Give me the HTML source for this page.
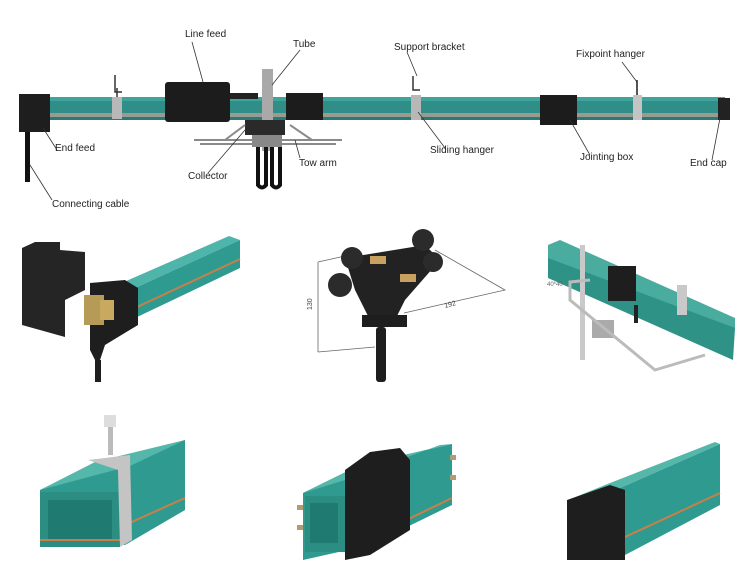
<!DOCTYPE html>
<html><head><meta charset="utf-8"><style>
html,body{margin:0;padding:0;background:#fff;}
svg{display:block;font-family:"Liberation Sans",sans-serif;}
</style></head><body>
<svg width="750" height="574" viewBox="0 0 750 574" xmlns="http://www.w3.org/2000/svg">
<rect width="750" height="574" fill="#fff"/>
<!-- TOP RAIL -->
<rect x="45" y="97" width="680" height="17" fill="#2f8f88"/>
<rect x="45" y="97" width="680" height="4" fill="#3fa59c"/>
<rect x="45" y="113" width="680" height="4" fill="#9a9a92"/>
<rect x="45" y="117" width="680" height="3" fill="#2a7a74"/>
<!-- end feed -->
<rect x="19" y="94" width="31" height="38" fill="#1e1e1e"/>
<rect x="25" y="132" width="5" height="50" fill="#111"/>
<!-- support hooks -->
<rect x="112" y="97" width="10" height="22" fill="#b8b8b8"/>
<path d="M115 75 L115 92 L122 92 M117 88 L117 97" stroke="#333" stroke-width="1.5" fill="none"/>
<!-- line feed -->
<rect x="165" y="82" width="65" height="40" rx="3" fill="#1c1c1c"/>
<rect x="230" y="93" width="28" height="6" fill="#222"/>
<!-- tube -->
<rect x="262" y="69" width="11" height="82" fill="#a9a9a9"/>
<rect x="286" y="93" width="37" height="27" fill="#1c1c1c"/>
<!-- collector -->
<rect x="245" y="120" width="40" height="15" fill="#2a2a2a"/>
<path d="M194 140 L342 140 M200 144 L336 144 M225 140 L245 125 M312 140 L290 125" stroke="#8a8a8a" stroke-width="2" fill="none"/>
<rect x="252" y="135" width="30" height="12" fill="#888"/>
<path d="M258 147 L258 185 Q262 190 266 185 L266 147 M272 147 L272 185 Q276 190 280 185 L280 147" stroke="#111" stroke-width="4" fill="none"/>
<!-- sliding hanger -->
<rect x="411" y="95" width="10" height="25" fill="#b8b8b8"/>
<path d="M413 76 L413 90 L420 90" stroke="#333" stroke-width="1.5" fill="none"/>
<!-- jointing box -->
<rect x="540" y="95" width="37" height="30" fill="#1c1c1c"/>
<!-- fixpoint -->
<rect x="633" y="95" width="9" height="25" fill="#c4c4c4"/>
<path d="M637 80 L637 95" stroke="#555" stroke-width="2"/>
<!-- end cap -->
<rect x="718" y="98" width="12" height="22" fill="#222"/>
<!-- leader lines -->
<g stroke="#333" stroke-width="0.8" fill="none">
<path d="M192 42 L203 82"/><path d="M300 50 L272 85"/><path d="M407 52 L417 76"/>
<path d="M622 62 L637 82"/><path d="M57 150 L43 128"/><path d="M52 200 L30 165"/>
<path d="M208 173 L245 130"/><path d="M300 158 L295 140"/><path d="M445 148 L418 112"/>
<path d="M590 155 L570 120"/><path d="M712 160 L720 118"/>
</g>
<g font-size="10" fill="#222">
<text x="185" y="37">Line feed</text>
<text x="293" y="47">Tube</text>
<text x="394" y="50">Support bracket</text>
<text x="576" y="57">Fixpoint hanger</text>
<text x="55" y="151">End feed</text>
<text x="188" y="179">Collector</text>
<text x="299" y="166">Tow arm</text>
<text x="430" y="153">Sliding hanger</text>
<text x="580" y="160">Jointing box</text>
<text x="690" y="166">End cap</text>
<text x="52" y="207">Connecting cable</text>
</g>
<!-- MID LEFT -->
<polygon points="22,248 35,242 60,242 60,250 85,252 85,290 65,300 65,337 22,325" fill="#252525"/>
<polygon points="124,282 229,236 240,240 135,288" fill="#4fb5aa"/>
<polygon points="135,288 240,240 240,268 135,318" fill="#2f9a8f"/>
<path d="M135 308 L240 259" stroke="#c8804a" stroke-width="2"/>
<polygon points="90,283 125,280 138,288 138,325 105,345 100,360 95,360 90,350" fill="#1e1e1e"/>
<rect x="84" y="295" width="20" height="30" fill="#b69a58"/>
<rect x="100" y="300" width="14" height="20" fill="#c9a860"/>
<rect x="95" y="360" width="6" height="22" fill="#1e1e1e"/>
<!-- MID CENTER collector -->
<path d="M318 262 L318 352 M318 262 L345 256 M318 352 L375 347 M404 313 L505 290 L435 250" stroke="#666" stroke-width="0.8" fill="none"/>
<text x="312" y="310" font-size="7" fill="#444" transform="rotate(-90 312 310)">130</text>
<text x="445" y="308" font-size="7" fill="#444" transform="rotate(-15 445 308)">192</text>
<polygon points="345,258 425,245 440,260 405,300 395,320 370,320 355,290" fill="#222"/>
<circle cx="352" cy="258" r="11" fill="#2b2b2b"/><circle cx="423" cy="240" r="11" fill="#2b2b2b"/>
<circle cx="340" cy="285" r="12" fill="#2b2b2b"/><circle cx="433" cy="262" r="10" fill="#2b2b2b"/>
<rect x="370" y="256" width="16" height="8" fill="#c8a060"/>
<rect x="400" y="274" width="16" height="8" fill="#c8a060"/>
<rect x="362" y="315" width="45" height="12" fill="#1e1e1e"/>
<rect x="376" y="327" width="10" height="55" rx="3" fill="#1e1e1e"/>
<!-- MID RIGHT -->
<polygon points="548,245 560,240 735,318 735,330 548,260" fill="#4aab9f"/>
<polygon points="548,258 735,328 733,360 548,278" fill="#2e9287"/>
<rect x="580" y="245" width="5" height="115" fill="#c9c9c9"/>
<rect x="608" y="266" width="28" height="35" fill="#1e1e1e"/>
<rect x="592" y="320" width="22" height="18" fill="#aaa"/>
<path d="M590 280 L570 282 L570 300 L655 370 L705 355" stroke="#bbb" stroke-width="3" fill="none"/>
<rect x="677" y="285" width="10" height="30" fill="#c9c9c9"/>
<rect x="634" y="305" width="4" height="18" fill="#222"/>
<text x="547" y="286" font-size="6" fill="#666">40*40</text>
<!-- BOTTOM LEFT -->
<polygon points="40,490 90,466 185,440 185,510 125,545 40,545" fill="#2f9a8f"/>
<polygon points="40,490 130,466 185,440 95,462" fill="#55b6aa"/>
<rect x="40" y="492" width="80" height="55" fill="#2c8d83"/>
<rect x="48" y="500" width="64" height="40" fill="#1f7a71"/>
<path d="M125 525 L185 498" stroke="#c8804a" stroke-width="2"/>
<path d="M40 540 L120 540" stroke="#c8804a" stroke-width="2"/>
<polygon points="88,460 130,455 132,540 120,547 118,470" fill="#c4c4c4"/>
<rect x="108" y="420" width="5" height="35" fill="#bbb"/>
<rect x="104" y="415" width="12" height="12" fill="#ddd"/>
<!-- BOTTOM MIDDLE -->
<polygon points="303,493 360,465 452,444 452,505 370,545 303,560" fill="#2f9a8f"/>
<polygon points="303,493 345,480 440,445 452,444 360,465" fill="#55b6aa"/>
<rect x="305" y="496" width="40" height="56" fill="#2c8d83"/>
<rect x="310" y="503" width="28" height="40" fill="#1f7a71"/>
<path d="M365 540 L452 498" stroke="#c8804a" stroke-width="2"/>
<polygon points="345,470 370,452 400,448 410,460 410,530 370,555 345,560" fill="#1e1e1e"/>
<g fill="#b49a70"><rect x="297" y="505" width="6" height="5"/><rect x="297" y="525" width="6" height="5"/><rect x="450" y="455" width="6" height="5"/><rect x="450" y="475" width="6" height="5"/></g>
<!-- BOTTOM RIGHT -->
<polygon points="620,488 720,444 720,505 625,555" fill="#2f9a8f"/>
<polygon points="568,500 610,483 715,442 720,444 620,488" fill="#55b6aa"/>
<path d="M625 537 L720 493" stroke="#c8804a" stroke-width="2"/>
<polygon points="567,500 610,485 625,490 625,560 567,560" fill="#1e1e1e"/>
</svg>
</body></html>
